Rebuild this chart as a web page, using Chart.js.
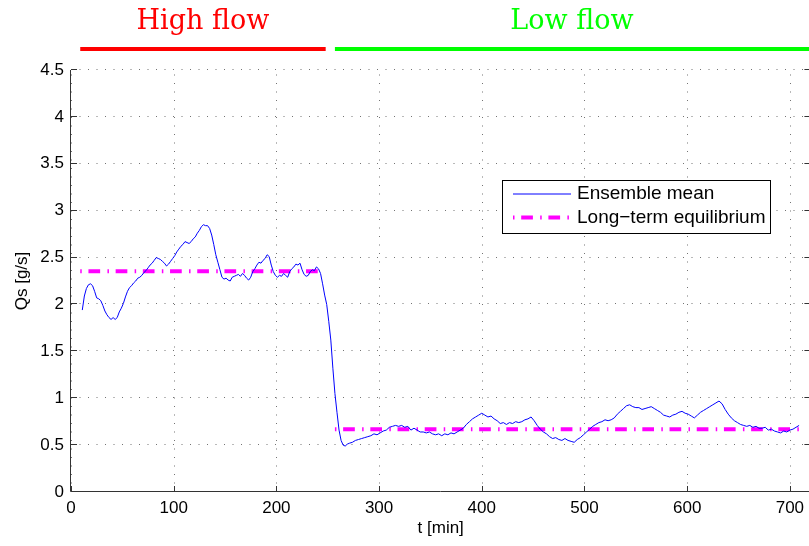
<!DOCTYPE html>
<html>
<head>
<meta charset="utf-8">
<script src="https://cdn.jsdelivr.net/npm/chart.js@4.4.1/dist/chart.umd.min.js"></script>
<style>
    html, body { margin: 0; padding: 0; background: #fff; overflow: hidden; }
    #wrap { width: 812px; height: 546px; }
</style>
</head>
<body>
<div id="wrap"><canvas id="chart" width="812" height="546"></canvas></div>
<script>
// ensemble mean sediment flux
const timeMin = [
    11, 13, 15, 17, 19, 21, 23, 25, 27, 29, 31, 33, 35, 37, 39, 41, 43, 45, 47, 49,
    51, 53, 55, 57, 59, 61, 63, 65, 67, 69, 71, 73, 75, 77, 79, 81, 83, 85, 87, 89,
    91, 93, 95, 97, 99, 101, 103, 105, 107, 109, 111, 113, 115, 117, 119, 121, 123, 125, 127, 129,
    131, 133, 135, 137, 139, 141, 143, 145, 147, 149, 151, 153, 155, 157, 159, 161, 163, 165, 167, 169,
    171, 173, 175, 177, 179, 181, 183, 185, 187, 189, 191, 193, 195, 197, 199, 201, 203, 205, 207, 209,
    211, 213, 215, 217, 219, 221, 223, 225, 227, 229, 231, 233, 235, 237, 239, 241, 243, 245, 247, 249,
    251, 253, 255, 257, 259, 261, 263, 265, 267, 269, 271,
    274, 277, 280, 283, 286, 289, 292, 295, 298, 301, 304, 307, 310, 313, 316, 319, 322, 325, 328, 331,
    334, 337, 340, 343, 346, 349, 352, 355, 358, 361, 364, 367, 370, 373, 376, 379, 382, 385, 388, 391,
    394, 397, 400, 403, 406, 409, 412, 415, 418, 421, 424, 427, 430, 433, 436, 439, 442, 445, 448, 451,
    454, 457, 460, 463, 466, 469, 472, 475, 478, 481, 484, 487, 490, 493, 496, 499, 502, 505, 508, 511,
    514, 517, 520, 523, 526, 529, 532, 535, 538, 541, 544, 547, 550, 553, 556, 559, 562, 565, 568, 571,
    574, 577, 580, 583, 586, 589, 592, 595, 598, 601, 604, 607, 610, 613, 616, 619, 622, 625, 628, 631,
    634, 637, 640, 643, 646, 649, 652, 655, 658, 661, 664, 667, 670, 673, 676, 679, 682, 685, 688, 691,
    694, 697, 700, 703, 706, 709
];
const meanQs = [
    1.94, 2.09, 2.17, 2.21, 2.22, 2.20, 2.14, 2.07, 2.06, 2.04, 1.99, 1.93, 1.89, 1.86, 1.84, 1.86, 1.84, 1.86, 1.92, 1.96,
    2.01, 2.08, 2.14, 2.18, 2.20, 2.23, 2.25, 2.28, 2.29, 2.31, 2.34, 2.36, 2.39, 2.42, 2.44, 2.47, 2.50, 2.49, 2.48, 2.46,
    2.44, 2.41, 2.43, 2.46, 2.49, 2.52, 2.56, 2.59, 2.62, 2.64, 2.67, 2.66, 2.65, 2.67, 2.70, 2.72, 2.76, 2.79, 2.83, 2.85,
    2.84, 2.84, 2.81, 2.74, 2.64, 2.53, 2.45, 2.37, 2.29, 2.27, 2.28, 2.26, 2.25, 2.29, 2.30, 2.31, 2.32, 2.30, 2.33, 2.31,
    2.28, 2.26, 2.29, 2.35, 2.38, 2.42, 2.45, 2.44, 2.47, 2.49, 2.53, 2.51, 2.42, 2.35, 2.31, 2.29, 2.31, 2.30, 2.33, 2.31,
    2.29, 2.35, 2.38, 2.40, 2.43, 2.42, 2.44, 2.37, 2.32, 2.30, 2.31, 2.35, 2.37, 2.36, 2.40, 2.38, 2.33, 2.22, 2.10, 2.00,
    1.82, 1.62, 1.32, 1.05, 0.85, 0.66, 0.55, 0.50, 0.49, 0.51, 0.52,
    0.53, 0.55, 0.56, 0.57, 0.58, 0.59, 0.60, 0.62, 0.61, 0.63, 0.65, 0.66, 0.69, 0.70, 0.71, 0.70, 0.71, 0.69, 0.70, 0.66,
    0.68, 0.66, 0.64, 0.64, 0.63, 0.64, 0.62, 0.61, 0.62, 0.60, 0.62, 0.61, 0.63, 0.62, 0.64, 0.66, 0.68, 0.72, 0.75, 0.78,
    0.80, 0.82, 0.84, 0.82, 0.80, 0.81, 0.78, 0.76, 0.73, 0.74, 0.72, 0.74, 0.73, 0.75, 0.74, 0.75, 0.77, 0.78, 0.80, 0.76,
    0.71, 0.67, 0.64, 0.62, 0.59, 0.57, 0.58, 0.56, 0.55, 0.57, 0.55, 0.54, 0.53, 0.56, 0.58, 0.61, 0.64, 0.67, 0.70, 0.72,
    0.74, 0.75, 0.77, 0.76, 0.77, 0.79, 0.83, 0.86, 0.89, 0.92, 0.93, 0.91, 0.90, 0.90, 0.88, 0.89, 0.90, 0.91, 0.89, 0.87,
    0.85, 0.82, 0.81, 0.80, 0.82, 0.83, 0.85, 0.86, 0.84, 0.83, 0.81, 0.79, 0.82, 0.85, 0.87, 0.89, 0.91, 0.93, 0.95, 0.97,
    0.94, 0.88, 0.83, 0.79, 0.76, 0.74, 0.72, 0.71, 0.70, 0.71, 0.69, 0.70, 0.68, 0.68, 0.69, 0.66, 0.67, 0.65, 0.64, 0.63,
    0.65, 0.64, 0.66, 0.67, 0.69, 0.71
];

// long-term equilibrium, two plateaus (null = gap)
const eqTime = [9, 243, 250, 257, 714];
const eqQs = [2.355, 2.355, null, 0.668, 0.668];

// flow phases drawn above the axes
const phaseNames = ["High flow", "Low flow"];
const phaseFrom = [9, 257];
const phaseTo = [248, 720];
const phaseColors = ["#ff0000", "#00ff00"];

const xTicks = [0, 100, 200, 300, 400, 500, 600, 700];
const yTicks = [0, 0.5, 1, 1.5, 2, 2.5, 3, 3.5, 4, 4.5];

const SANS = '"Liberation Sans", Arial, sans-serif';
const EQ_DASH = [1.5, 6.7, 11.7, 7.3];

const matlabFrame = {
    id: "matlabFrame",
    beforeDatasetsDraw(chart) {
        const { ctx, chartArea: a, scales: { x, y } } = chart;
        ctx.save();
        ctx.strokeStyle = "rgba(0,0,0,0.55)";
        ctx.lineWidth = 1;
        ctx.setLineDash([1, 7.5]);
        xTicks.forEach(v => {
            const px = Math.round(x.getPixelForValue(v)) + 0.5;
            ctx.beginPath();
            ctx.moveTo(px, a.bottom);
            ctx.lineTo(px, a.top);
            ctx.stroke();
        });
        yTicks.forEach(v => {
            const py = Math.round(y.getPixelForValue(v)) - 0.5;
            ctx.beginPath();
            ctx.moveTo(a.left, py);
            ctx.lineTo(a.right, py);
            ctx.stroke();
        });
        ctx.restore();
    },
    afterDatasetsDraw(chart) {
        const { ctx, chartArea: a, scales: { x, y } } = chart;
        ctx.save();

        // axes: left and bottom, inward ticks
        ctx.strokeStyle = "#333";
        ctx.lineWidth = 1;
        ctx.beginPath();
        ctx.moveTo(a.left - 0.5, a.top);
        ctx.lineTo(a.left - 0.5, a.bottom - 0.5);
        ctx.lineTo(a.right, a.bottom - 0.5);
        ctx.lineTo(a.right, a.top);
        ctx.stroke();
        xTicks.forEach(v => {
            const px = Math.round(x.getPixelForValue(v)) + 0.5;
            ctx.beginPath();
            ctx.moveTo(px, a.bottom);
            ctx.lineTo(px, a.bottom - 6);
            ctx.stroke();
        });
        yTicks.forEach(v => {
            const py = Math.round(y.getPixelForValue(v)) - 0.5;
            ctx.beginPath();
            ctx.moveTo(a.left, py);
            ctx.lineTo(a.left + 6, py);
            ctx.moveTo(a.right, py);
            ctx.lineTo(a.right - 6, py);
            ctx.stroke();
        });

        // axis titles
        ctx.fillStyle = "#000";
        ctx.font = "17px " + SANS;
        ctx.textAlign = "center";
        ctx.textBaseline = "middle";
        ctx.fillText("t [min]", (a.left + a.right) / 2, 528);
        ctx.save();
        ctx.translate(22, (a.top + a.bottom) / 2);
        ctx.rotate(-Math.PI / 2);
        ctx.fillText("Qs [g/s]", 0, 0);
        ctx.restore();

        // phase bars and names
        phaseNames.forEach((name, i) => {
            const x0 = x.getPixelForValue(phaseFrom[i]);
            const x1 = x.getPixelForValue(phaseTo[i]);
            ctx.strokeStyle = phaseColors[i];
            ctx.lineWidth = 4;
            ctx.beginPath();
            ctx.moveTo(x0, 49);
            ctx.lineTo(x1, 49);
            ctx.stroke();
            ctx.fillStyle = phaseColors[i];
            ctx.font = '27px "DejaVu Serif", serif';
            ctx.textAlign = "center";
            ctx.textBaseline = "alphabetic";
            ctx.fillText(name, (x0 + Math.min(x1, 809)) / 2, 29);
        });

        // legend box
        ctx.fillStyle = "#fff";
        ctx.fillRect(502, 180, 268, 53);
        ctx.strokeStyle = "#000";
        ctx.lineWidth = 1;
        ctx.strokeRect(502.5, 180.5, 268, 53);
        const ds = chart.data.datasets;
        const rows = [194, 217.5];
        ds.forEach((d, i) => {
            ctx.strokeStyle = d.borderColor;
            ctx.lineWidth = d.borderWidth;
            ctx.setLineDash(d.borderDash || []);
            ctx.beginPath();
            ctx.moveTo(513, rows[i]);
            ctx.lineTo(571, rows[i]);
            ctx.stroke();
            ctx.setLineDash([]);
            ctx.fillStyle = "#000";
            ctx.font = "19px " + SANS;
            ctx.textAlign = "left";
            ctx.textBaseline = "middle";
            ctx.fillText(d.label, 577, rows[i]);
        });
        ctx.restore();
    }
};

new Chart(document.getElementById("chart"), {
    type: "line",
    data: {
        datasets: [
            {
                label: "Ensemble mean",
                data: timeMin.map((t, i) => ({ x: t, y: meanQs[i] })),
                borderColor: "#0000ff",
                borderWidth: 1,
                pointRadius: 0,
                tension: 0
            },
            {
                label: "Long\u2212term equilibrium",
                data: eqTime.map((t, i) => ({ x: t, y: eqQs[i] })),
                borderColor: "#ff00ff",
                borderWidth: 4,
                borderDash: EQ_DASH,
                borderCapStyle: "butt",
                pointRadius: 0,
                spanGaps: false
            }
        ]
    },
    options: {
        responsive: false,
        animation: false,
        devicePixelRatio: 1,
        layout: { padding: { left: 0, top: 70, right: 1.6, bottom: 0 } },
        plugins: { legend: { display: false }, tooltip: { enabled: false } },
        scales: {
            x: {
                type: "linear",
                min: 0,
                max: 720,
                afterBuildTicks: s => { s.ticks = xTicks.map(v => ({ value: v })); },
                afterFit: s => { s.height = 54; },
                grid: { display: false, drawTicks: false },
                border: { display: false },
                ticks: { color: "#000", font: { family: SANS, size: 17 }, padding: 6, maxRotation: 0, callback: v => String(v) }
            },
            y: {
                min: 0,
                max: 4.5,
                afterBuildTicks: s => { s.ticks = yTicks.map(v => ({ value: v })); },
                afterFit: s => { s.width = 71; },
                grid: { display: false, drawTicks: false },
                border: { display: false },
                ticks: { color: "#000", font: { family: SANS, size: 17 }, padding: 7, callback: v => String(v) }
            }
        }
    },
    plugins: [matlabFrame]
});
</script>
</body>
</html>
